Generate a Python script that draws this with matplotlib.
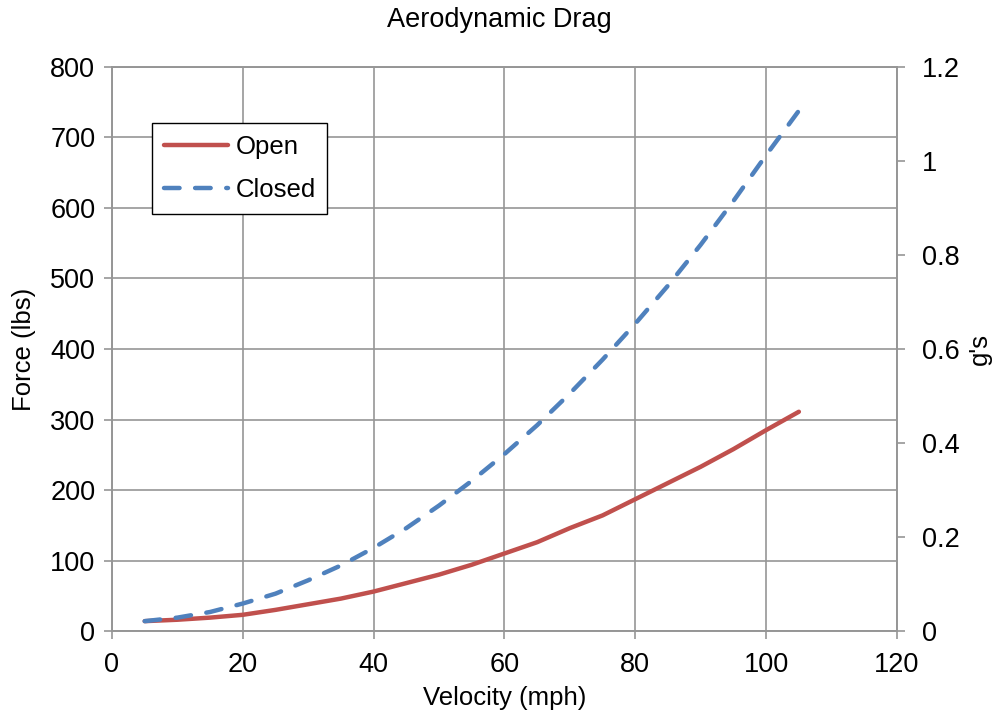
import matplotlib
matplotlib.use("Agg")
import matplotlib.pyplot as plt

plt.rcParams['font.family'] = ['Liberation Sans', 'DejaVu Sans']

# velocity (mph) and drag force (lbs)
velocity = [5, 10, 15, 20, 25, 30, 35, 40, 45, 50, 55, 60, 65, 70, 75, 80, 85, 90, 95, 100, 105]
force_open = [14, 16, 19, 23, 30, 38, 46, 56, 68, 80, 94, 110, 126, 146, 164, 187, 210, 233, 258, 285, 311]
force_closed = [14, 19, 27, 39, 53, 72, 93, 118, 146, 178, 213, 251, 292, 337, 385, 436, 490, 548, 610, 675, 738]

x_ticks = [0, 20, 40, 60, 80, 100, 120]
y_ticks = [0, 100, 200, 300, 400, 500, 600, 700, 800]
g_ticks = [0, 0.2, 0.4, 0.6, 0.8, 1.0, 1.2]
g_labels = ["0", "0.2", "0.4", "0.6", "0.8", "1", "1.2"]

grid_col = "#969696"
fs = 19.5
lab_fs = 18.5

fig = plt.figure(figsize=(9.99, 7.21), dpi=100)
ax = fig.add_axes([0.1121, 0.1248, 0.7858, 0.7823])

ax.plot(velocity, force_open, color="#C0504D", lw=3.2, label="Open", solid_capstyle="round")
ax.plot(velocity, force_closed, color="#4F81BD", lw=3.2, ls=(0, (3.5, 3.5)), label="Closed",
        dash_capstyle="round")

ax.set_xlim(0, 120)
ax.set_ylim(0, 800)
ax.set_xticks(x_ticks)
ax.set_yticks(y_ticks)
ax.grid(True, color=grid_col, lw=1.2)
ax.set_axisbelow(True)
for s in ax.spines.values():
    s.set_color(grid_col)
    s.set_linewidth(1.2)
ax.tick_params(colors=grid_col, labelcolor="black", labelsize=fs, length=6, width=1.2, pad=6)
ax.tick_params(axis="x", pad=9)
ax.set_xlabel("Velocity (mph)", fontsize=lab_fs, labelpad=6)
ax.set_ylabel("Force (lbs)", fontsize=lab_fs, labelpad=10)
fig.text(0.5, 1 - 20 / 721, "Aerodynamic Drag", fontsize=19.5, ha="center", va="center")

ax2 = ax.twinx()
ax2.set_ylim(0, 1.2)
ax2.set_yticks(g_ticks)
ax2.set_yticklabels(g_labels)
for s in ax2.spines.values():
    s.set_color(grid_col)
    s.set_linewidth(1.2)
ax2.tick_params(colors=grid_col, labelcolor="black", labelsize=fs, length=6, width=1.2, pad=12)
ax2.set_ylabel("g's", fontsize=lab_fs, labelpad=6)

leg = ax.legend(loc="upper left", bbox_to_anchor=(0.051, 0.9), fontsize=lab_fs, fancybox=False,
                framealpha=1, edgecolor="black", handlelength=2.5, handletextpad=0.3,
                borderpad=0.45, labelspacing=0.75, borderaxespad=0)
leg.get_frame().set_linewidth(1.0)

fig.savefig("out.png", dpi=100)
